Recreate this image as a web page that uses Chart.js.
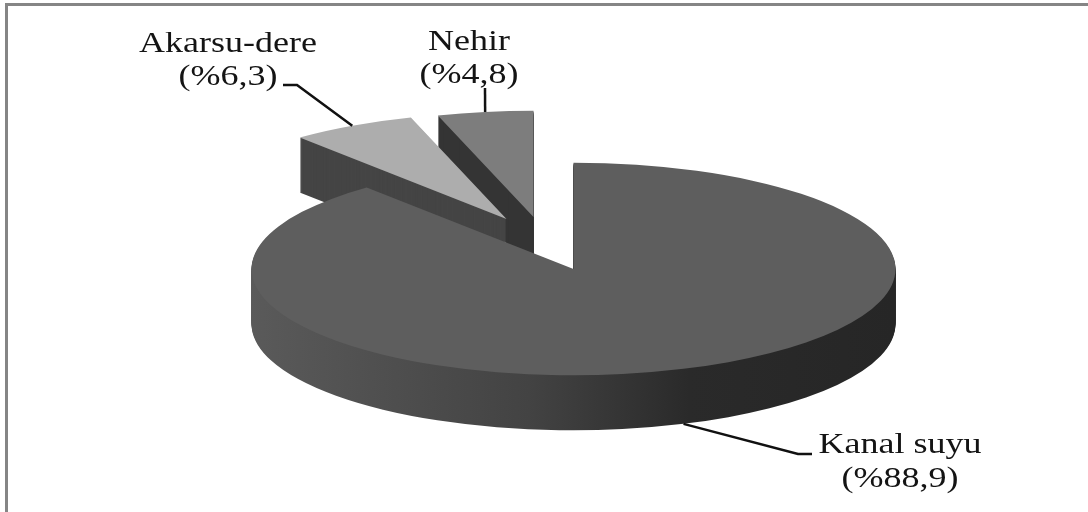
<!DOCTYPE html>
<html lang="tr">
<head>
<meta charset="utf-8">
<title>Su kaynakları</title>
<script src="https://cdn.jsdelivr.net/npm/chart.js@4"></script>
<style>
  html, body { margin: 0; padding: 0; background: #fff; }
  canvas { display: block; }
</style>
</head>
<body>
<canvas id="chartCanvas" width="1088" height="512"></canvas>
<script>
// Su kaynaklarının dağılımı (%)
const categories = ['Kanal suyu', 'Akarsu-dere', 'Nehir'];
const shares = [88.9, 6.3, 4.8];

// Görünüm ayarları: her dilim için renk ve kayma
const topColors = ['#5e5e5e', '#adadad', '#7d7d7d'];
const wallColors = [null, '#454545', '#343434'];
const sliceShift = [[0, 0], [-67, -50], [-40, -52]];
const tilt = 0.33;      // daireyi elipse basan dikey ölçek
const depth = 55;       // dilim kalınlığı
const textStretch = 1.2;

// Etiket yerleşimi: metin merkezi, iki satırın taban çizgileri, çizginin dirseği
const labelLayout = [
    { x: 900, y1: 453, y2: 487, bend: [[798, 454], [812, 454]], onWall: true },
    { x: 228, y1: 52, y2: 85, bend: [[297, 85], [283, 85]], onWall: false },
    { x: 469, y1: 50, y2: 83, bend: [[485, 88]], onWall: false }
];

// Dilimi kaydırıp basık olarak çizer; renk verilirse elemanın rengi yerine o kullanılır
function drawSlice(ctx, arc, index, dy, fill) {
    const saved = arc.options;
    arc.options = {
        backgroundColor: fill,
        borderColor: fill,
        borderWidth: 0,
        borderRadius: 0,
        borderAlign: 'center',
        circular: true,
        offset: 0,
        spacing: 0
    };
    ctx.save();
    ctx.translate(sliceShift[index][0], sliceShift[index][1] + dy);
    ctx.translate(arc.x, arc.y);
    ctx.scale(1, tilt);
    ctx.translate(-arc.x, -arc.y);
    arc.draw(ctx);
    ctx.restore();
    arc.options = saved;
}

const pie3d = {
    id: 'pie3d',
    beforeDatasetsDraw(chart) {
        const ctx = chart.ctx;
        const arcs = chart.getDatasetMeta(0).data;

        // Ana dilimin yan yüzeyi soldan sağa koyulaşıyor
        const cx = arcs[0].x, r = arcs[0].outerRadius;
        const wall = ctx.createLinearGradient(cx - r, 0, cx + r, 0);
        wall.addColorStop(0, '#5a5a5a');
        wall.addColorStop(0.43, '#434343');
        wall.addColorStop(0.68, '#2a2a2a');
        wall.addColorStop(1, '#262626');

        // Arkadan öne: Nehir, Akarsu-dere, Kanal suyu
        [2, 1, 0].forEach(i => {
            const side = wallColors[i] || wall;
            for (let d = depth; d > 0; d--) {
                drawSlice(ctx, arcs[i], i, d, side);
            }
            drawSlice(ctx, arcs[i], i, 0, topColors[i]);
        });
        return false; // varsayılan düz pasta çizilmesin
    },
    afterDraw(chart) {
        const ctx = chart.ctx;
        const arcs = chart.getDatasetMeta(0).data;

        ctx.save();
        // Sol ve üst çerçeve
        ctx.fillStyle = '#858585';
        ctx.fillRect(5, 3, chart.width - 5, 3);
        ctx.fillRect(5, 3, 3, chart.height);

        categories.forEach((name, i) => {
            const arc = arcs[i];
            const layout = labelLayout[i];
            const mid = (arc.startAngle + arc.endAngle) / 2;
            const ax = arc.x + sliceShift[i][0] + Math.cos(mid) * arc.outerRadius;
            const ay = arc.y + sliceShift[i][1] + Math.sin(mid) * arc.outerRadius * tilt + (layout.onWall ? depth : 0);

            ctx.strokeStyle = '#111';
            ctx.lineWidth = 2.5;
            ctx.beginPath();
            ctx.moveTo(ax, ay);
            layout.bend.forEach(p => ctx.lineTo(p[0], p[1]));
            ctx.stroke();

            const value = '(%' + String(shares[i]).replace('.', ',') + ')';
            ctx.fillStyle = '#141414';
            ctx.font = '30px "Liberation Serif"';
            ctx.textAlign = 'center';
            ctx.textBaseline = 'alphabetic';
            [[name, layout.y1], [value, layout.y2]].forEach(([text, y]) => {
                ctx.save();
                ctx.translate(layout.x, y);
                ctx.scale(textStretch, 1);
                ctx.fillText(text, 0, 0);
                ctx.restore();
            });
        });
        ctx.restore();
    }
};

window.addEventListener('load', () => {
    const ctx = document.getElementById('chartCanvas').getContext('2d');
    new Chart(ctx, {
        type: 'pie',
        data: {
            labels: categories,
            datasets: [{ data: shares, backgroundColor: topColors, borderWidth: 0 }]
        },
        options: {
            responsive: false,
            animation: false,
            radius: 322,
            layout: { padding: { left: 59, top: 26 } },
            plugins: {
                legend: { display: false },
                tooltip: { enabled: false }
            }
        },
        plugins: [pie3d]
    });
});
</script>
</body>
</html>
